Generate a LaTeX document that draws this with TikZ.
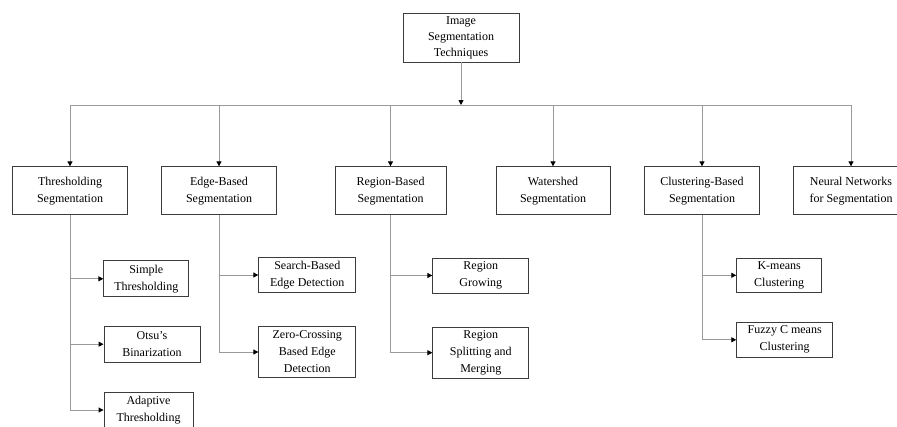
\documentclass[tikz,border=0pt]{standalone}
\usepackage{fontspec}
\setmainfont{Liberation Serif}
\usetikzlibrary{arrows.meta}
\definecolor{linegray}{HTML}{9A9A9A}
\definecolor{boxgray}{HTML}{3C3C3C}

\begin{document}
\begin{tikzpicture}[x=1pt, y=-1pt,
   tech/.style={draw=boxgray, line width=0.9pt, minimum width=115pt,
                minimum height=48pt, align=center, inner sep=1pt,
                font=\fontsize{12}{17}\selectfont},
   sub/.style={draw=boxgray, line width=0.9pt, align=center, inner sep=1pt,
               font=\fontsize{12}{17}\selectfont},
   link/.style={draw=linegray, line width=0.9pt},
   >={Triangle[length=5pt, width=5pt, color=black]}]
  \useasboundingbox (0,0) rectangle (897,426);
  \clip (0,0) rectangle (897,426);

  \node[tech, minimum width=116pt, minimum height=49pt,
        font=\fontsize{12}{16}\selectfont] (root) at (461,37.5)
        {Image\\Segmentation\\Techniques};
  \coordinate (bus) at (461,105);

  \node[tech] (thr)    at (70,190.8)  {Thresholding\\Segmentation};
  \node[tech] (edge)   at (219,190.8) {Edge-Based\\Segmentation};
  \node[tech, minimum width=111pt] (region) at (390.5,190.8) {Region-Based\\Segmentation};
  \node[tech, minimum width=114pt] (water)  at (553,190.8)   {Watershed\\Segmentation};
  \node[tech] (clust)  at (702,190.8) {Clustering-Based\\Segmentation};
  \node[tech] (neural) at (851,190.8) {Neural Networks\\for Segmentation};

  \node[sub, minimum width=85pt, minimum height=36pt] (simple) at (146.3,278.8) {Simple\\Thresholding};
  \node[sub, minimum width=96pt, minimum height=36pt] (otsu)   at (152,344.2)   {Otsu's\\Binarization};
  \node[sub, minimum width=89pt, minimum height=36pt] (adapt)  at (148.5,410)   {Adaptive\\Thresholding};

  \node[sub, minimum width=97pt, minimum height=35pt] (search) at (307.3,275)   {Search-Based\\Edge Detection};
  \node[sub, minimum width=97pt, minimum height=51pt] (zero)   at (307.3,352)   {Zero-Crossing\\Based Edge\\Detection};

  \node[sub, minimum width=96pt, minimum height=35pt] (grow)   at (480.8,275.5) {Region\\Growing};
  \node[sub, minimum width=96pt, minimum height=51pt] (split)  at (480.8,352.7) {Region\\Splitting and\\Merging};

  \node[sub, minimum width=85pt, minimum height=34pt] (kmeans) at (779.2,275.3) {K-means\\Clustering};
  \node[sub, minimum width=96pt, minimum height=35pt] (fuzzy)  at (784.7,339.8) {Fuzzy C means\\Clustering};

  \draw[link, ->] (root) -- (bus);
  \draw[link] (thr |- bus) -- (neural |- bus);
  \foreach \n in {thr, edge, region, water, clust, neural}
    \draw[link, ->] (\n |- bus) -- (\n);

  \foreach \c in {simple, otsu, adapt}
    \draw[link, ->] (thr.south) |- (\c.west);
  \foreach \c in {search, zero}
    \draw[link, ->] (edge.south) |- (\c.west);
  \foreach \c in {grow, split}
    \draw[link, ->] (region.south) |- (\c.west);
  \foreach \c in {kmeans, fuzzy}
    \draw[link, ->] (clust.south) |- (\c.west);
\end{tikzpicture}
\end{document}
